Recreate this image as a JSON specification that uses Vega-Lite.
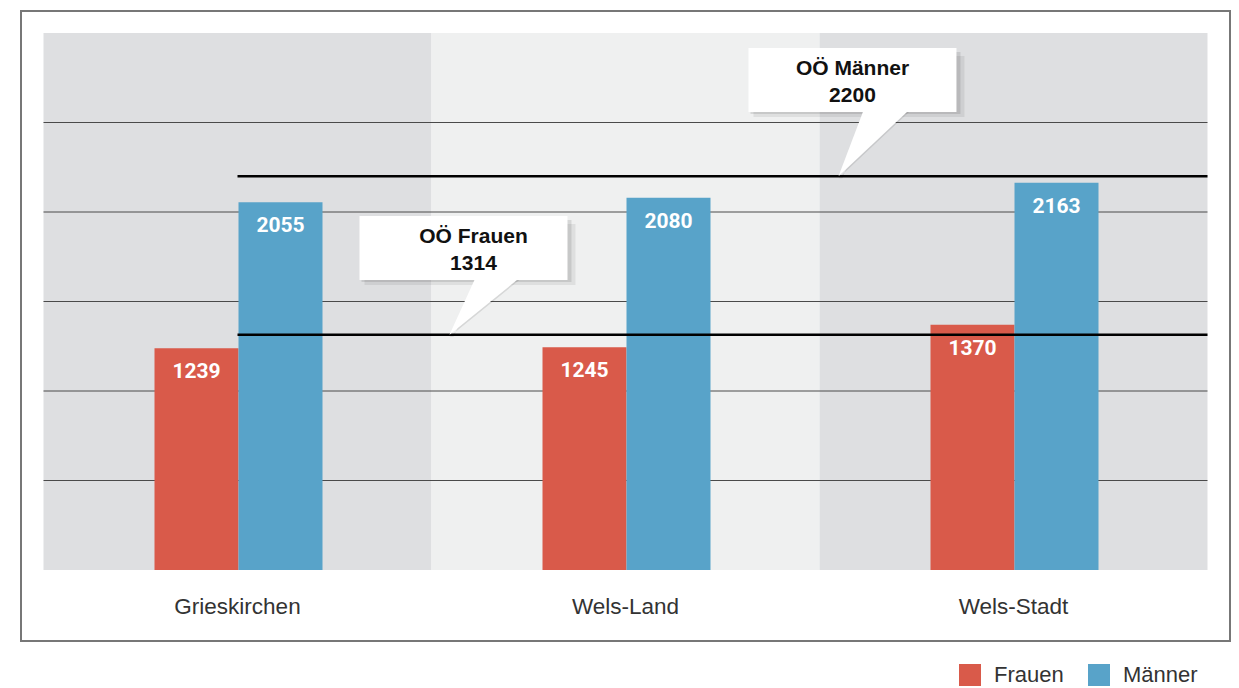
{
  "$schema": "https://vega.github.io/schema/vega-lite/v6.json",
  "width": 1209,
  "height": 630,
  "autosize": {"type": "none"},
  "padding": {"left": 21, "top": 11, "right": 9, "bottom": 47},
  "background": "#ffffff",
  "config": {
    "view": {"stroke": "#777777", "strokeWidth": 2},
    "font": "Liberation Sans"
  },
  "datasets": {
    "bars": [
      {"region": "Grieskirchen", "gender": "Frauen", "value": 1239},
      {"region": "Grieskirchen", "gender": "Männer", "value": 2055},
      {"region": "Wels-Land", "gender": "Frauen", "value": 1245},
      {"region": "Wels-Land", "gender": "Männer", "value": 2080},
      {"region": "Wels-Stadt", "gender": "Frauen", "value": 1370},
      {"region": "Wels-Stadt", "gender": "Männer", "value": 2163}
    ],
    "regions": [
      {"region": "Grieskirchen"},
      {"region": "Wels-Land"},
      {"region": "Wels-Stadt"}
    ],
    "grid": [{"g": 500}, {"g": 1000}, {"g": 1500}, {"g": 2000}, {"g": 2500}],
    "refs": [
      {"name": "OÖ Frauen", "value": 1314},
      {"name": "OÖ Männer", "value": 2200}
    ],
    "boxes": [
      {"id": "F", "x1": 0.8144, "x2": 1.3505, "y1": 1620, "y2": 1978, "xc": 1.1082, "yc": 1860, "label": "OÖ Frauen\n1314"},
      {"id": "M", "x1": 1.817, "x2": 2.353, "y1": 2559, "y2": 2916, "xc": 2.085, "yc": 2799, "label": "OÖ Männer\n2200"}
    ],
    "pointers": [
      {"id": "F", "py": 1645, "px1": 1.116, "px2": 1.2345},
      {"id": "F", "py": 1314, "px1": 1.0464, "px2": 1.0464},
      {"id": "M", "py": 2582, "px1": 2.116, "px2": 2.237},
      {"id": "M", "py": 2200, "px1": 2.049, "px2": 2.049}
    ]
  },
  "resolve": {"scale": {"x": "independent"}},
  "layer": [
    {
      "data": {"name": "regions"},
      "layer": [
        {
          "mark": {"type": "bar"},
          "encoding": {
            "x": {"field": "region", "type": "nominal", "axis": null,
                  "scale": {"domain": ["Grieskirchen", "Wels-Land", "Wels-Stadt"], "paddingInner": 0, "paddingOuter": 0.058}},
            "y": {"datum": 3000, "type": "quantitative", "axis": null,
                  "scale": {"domain": [-396.6, 3122.9], "nice": false, "zero": false}},
            "y2": {"datum": 0},
            "fill": {"condition": {"test": "datum.region === 'Wels-Land'", "value": "#eff0f0"}, "value": "#dedfe1"}
          }
        },
        {
          "mark": {"type": "text", "fontSize": 22.5, "color": "#333333", "baseline": "middle", "align": "center"},
          "encoding": {
            "x": {"field": "region", "type": "nominal", "axis": null,
                  "scale": {"domain": ["Grieskirchen", "Wels-Land", "Wels-Stadt"], "paddingInner": 0, "paddingOuter": 0.058}},
            "y": {"datum": -205, "type": "quantitative", "axis": null,
                  "scale": {"domain": [-396.6, 3122.9], "nice": false, "zero": false}},
            "text": {"field": "region"}
          }
        }
      ]
    },
    {
      "data": {"name": "grid"},
      "mark": {"type": "rule", "color": "#4a4a4a", "strokeWidth": 1},
      "encoding": {
        "x": {"datum": 0, "type": "quantitative", "axis": null,
              "scale": {"domain": [-0.058, 3.058], "nice": false, "zero": false}},
        "x2": {"datum": 3},
        "y": {"field": "g", "type": "quantitative", "axis": null,
              "scale": {"domain": [-396.6, 3122.9], "nice": false, "zero": false}}
      }
    },
    {
      "data": {"name": "bars"},
      "encoding": {
        "x": {"field": "region", "type": "nominal", "axis": null,
              "scale": {"domain": ["Grieskirchen", "Wels-Land", "Wels-Stadt"], "paddingInner": 0, "paddingOuter": 0.058}},
        "xOffset": {"field": "gender", "type": "nominal",
                    "scale": {"domain": ["Frauen", "Männer"], "range": [111, 279], "paddingInner": 0, "paddingOuter": 0}},
        "y": {"field": "value", "type": "quantitative", "axis": null,
              "scale": {"domain": [-396.6, 3122.9], "nice": false, "zero": false}}
      },
      "layer": [
        {
          "mark": {"type": "bar"},
          "encoding": {
            "y2": {"datum": 0},
            "color": {"field": "gender", "type": "nominal",
                      "scale": {"domain": ["Frauen", "Männer"], "range": ["#d95a4a", "#58a3c9"]},
                      "legend": {"title": null, "orient": "none", "direction": "horizontal",
                                 "legendX": 938, "legendY": 653, "symbolType": "square",
                                 "symbolSize": 484, "symbolStrokeWidth": 0, "labelFontSize": 22,
                                 "labelColor": "#333333", "labelOffset": 13, "columnPadding": 24,
                                 "labelFont": "Liberation Sans"}}
          }
        },
        {
          "mark": {"type": "text", "color": "#ffffff", "fontWeight": "bold", "fontSize": 21,
                   "baseline": "middle", "align": "center", "dy": 24, "font": "Roboto"},
          "encoding": {"text": {"field": "value", "type": "quantitative", "format": "d"}}
        }
      ]
    },
    {
      "data": {"name": "refs"},
      "mark": {"type": "rule", "color": "#000000", "strokeWidth": 2.5},
      "encoding": {
        "x": {"datum": 0.5, "type": "quantitative", "axis": null,
              "scale": {"domain": [-0.058, 3.058], "nice": false, "zero": false}},
        "x2": {"datum": 3},
        "y": {"field": "value", "type": "quantitative", "axis": null,
              "scale": {"domain": [-396.6, 3122.9], "nice": false, "zero": false}}
      }
    },
    {
      "layer": [
        {
          "data": {"name": "boxes"},
          "mark": {"type": "rect", "color": "#000000", "opacity": 0.07, "xOffset": 5, "x2Offset": 8, "yOffset": 5, "y2Offset": 8},
          "encoding": {
            "x": {"field": "x1", "type": "quantitative", "axis": null,
                  "scale": {"domain": [-0.058, 3.058], "nice": false, "zero": false}},
            "x2": {"field": "x2"},
            "y": {"field": "y1", "type": "quantitative", "axis": null,
                  "scale": {"domain": [-396.6, 3122.9], "nice": false, "zero": false}},
            "y2": {"field": "y2"}
          }
        },
        {
          "data": {"name": "boxes"},
          "mark": {"type": "rect", "color": "#000000", "opacity": 0.1, "xOffset": 2, "x2Offset": 4, "yOffset": 2, "y2Offset": 4},
          "encoding": {
            "x": {"field": "x1", "type": "quantitative", "axis": null,
                  "scale": {"domain": [-0.058, 3.058], "nice": false, "zero": false}},
            "x2": {"field": "x2"},
            "y": {"field": "y1", "type": "quantitative", "axis": null,
                  "scale": {"domain": [-396.6, 3122.9], "nice": false, "zero": false}},
            "y2": {"field": "y2"}
          }
        },
        {
          "data": {"name": "pointers"},
          "mark": {"type": "area", "orient": "horizontal", "color": "#000000", "opacity": 0.1, "xOffset": 4, "yOffset": 2},
          "encoding": {
            "y": {"field": "py", "type": "quantitative", "axis": null,
                  "scale": {"domain": [-396.6, 3122.9], "nice": false, "zero": false}},
            "x": {"field": "px1", "type": "quantitative", "axis": null,
                  "scale": {"domain": [-0.058, 3.058], "nice": false, "zero": false}},
            "x2": {"field": "px2"},
            "detail": {"field": "id"}
          }
        },
        {
          "data": {"name": "boxes"},
          "mark": {"type": "rect", "color": "#ffffff"},
          "encoding": {
            "x": {"field": "x1", "type": "quantitative", "axis": null,
                  "scale": {"domain": [-0.058, 3.058], "nice": false, "zero": false}},
            "x2": {"field": "x2"},
            "y": {"field": "y1", "type": "quantitative", "axis": null,
                  "scale": {"domain": [-396.6, 3122.9], "nice": false, "zero": false}},
            "y2": {"field": "y2"}
          }
        },
        {
          "data": {"name": "pointers"},
          "mark": {"type": "area", "orient": "horizontal", "color": "#ffffff"},
          "encoding": {
            "y": {"field": "py", "type": "quantitative", "axis": null,
                  "scale": {"domain": [-396.6, 3122.9], "nice": false, "zero": false}},
            "x": {"field": "px1", "type": "quantitative", "axis": null,
                  "scale": {"domain": [-0.058, 3.058], "nice": false, "zero": false}},
            "x2": {"field": "px2"},
            "detail": {"field": "id"}
          }
        },
        {
          "data": {"name": "boxes"},
          "mark": {"type": "text", "fontSize": 21, "fontWeight": "bold", "color": "#111111",
                   "lineBreak": "\n", "lineHeight": 27, "align": "center", "baseline": "middle"},
          "encoding": {
            "x": {"field": "xc", "type": "quantitative", "axis": null,
                  "scale": {"domain": [-0.058, 3.058], "nice": false, "zero": false}},
            "y": {"field": "yc", "type": "quantitative", "axis": null,
                  "scale": {"domain": [-396.6, 3122.9], "nice": false, "zero": false}},
            "text": {"field": "label"}
          }
        }
      ]
    }
  ]
}
